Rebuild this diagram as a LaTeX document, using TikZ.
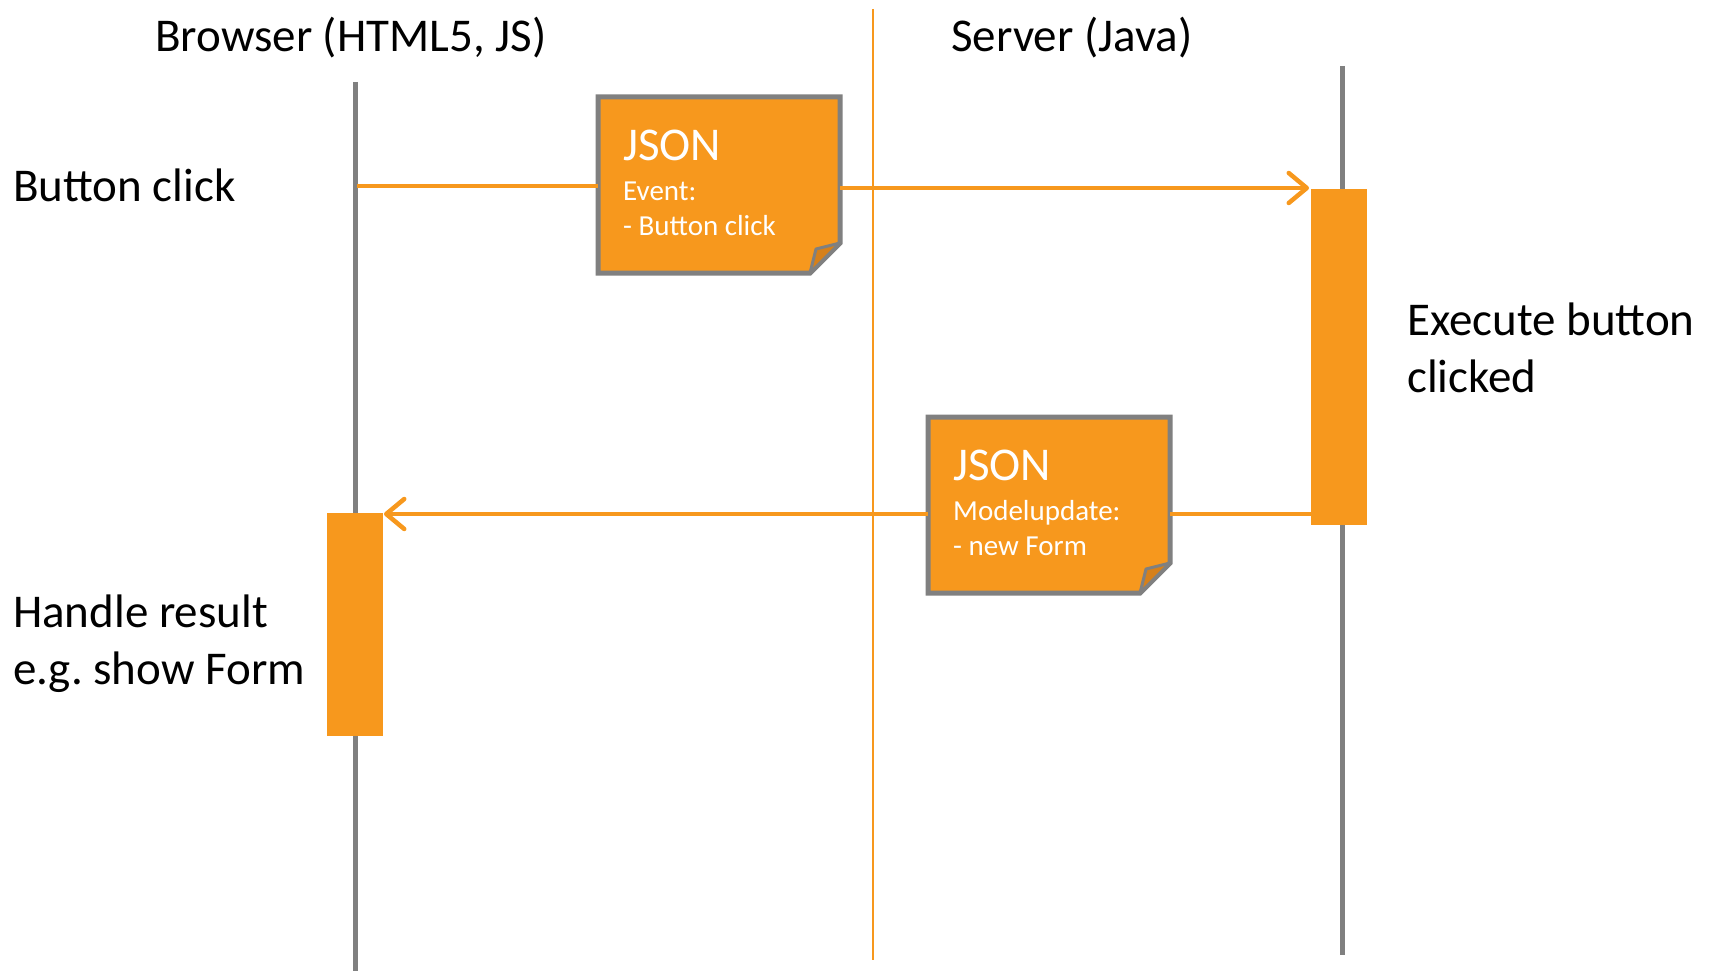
\documentclass[tikz,border=0pt]{standalone}
\usepackage{fontspec}
\setmainfont{Carlito}
\frenchspacing
\usetikzlibrary{arrows.meta,calc}
\definecolor{orng}{RGB}{247,152,29}
\definecolor{gry}{RGB}{128,128,128}
\definecolor{foldc}{RGB}{214,128,26}
\begin{document}
\begin{tikzpicture}[x=1pt,y=-1pt,
  lifeline/.style={draw=gry,line width=5pt},
  divider/.style={draw=orng,line width=2pt},
  msg/.style={draw=orng,line width=4.5pt},
  msgarrow/.style={msg,-{Straight Barb[length=18pt,width=30pt,round]}},
  act/.style={fill=orng,draw=none,inner sep=0pt,outer sep=0pt,anchor=north west},
  notebox/.style={draw=none,inner sep=0pt,outer sep=2.5pt,minimum width=237pt,minimum height=171pt},
  noteshape/.style={fill=orng,draw=gry,line width=5pt,line join=miter},
  foldshape/.style={fill=foldc,draw=gry,line width=3pt,line join=round},
  big/.style={font=\fontsize{47}{57}\selectfont,inner sep=0pt,anchor=base west},
  small/.style={font=\fontsize{29}{35}\selectfont,inner sep=0pt,anchor=base west,text=white},
]
\useasboundingbox (0,0) rectangle (1715,971);
% lifelines
\coordinate (bt) at (355,82);
\coordinate (bb) at (355,971);
\coordinate (st) at (1342.5,66);
\coordinate (sb) at (1342.5,955);
\coordinate (dt) at (873,9);
\coordinate (db) at (873,960);
\draw[lifeline] (bt) -- (bb);
\draw[lifeline] (st) -- (sb);
\draw[divider] (dt) -- (db);
% activation boxes
\node[act,minimum width=56pt,minimum height=336pt] (sact) at (1311,189) {};
\node[act,minimum width=56pt,minimum height=223pt] (bact) at (327,513) {};
% titles
\node[big] (tb) at (155,52) {Browser (HTML5, JS)};
\node[big] (ts) at (951,52) {Server (Java)};
% side labels
\node[big] (lb1) at (13,201) {Button click};
\node[big] (lb2) at (13,627) {\begin{tabular}[t]{@{}l@{}}Handle result\\e.g. show Form\end{tabular}};
\node[big] (ls1) at (1407,335) {\begin{tabular}[t]{@{}l@{}}Execute button\\clicked\end{tabular}};
% notes
\node[notebox] (n1) at (719,185) {};
\node[notebox] (n2) at (1049,505) {};
\foreach \n in {n1,n2}{
  \path[noteshape] (\n.north west) -- (\n.north east) -- ($(\n.south east)+(0,-30)$) -- ($(\n.south east)+(-30,0)$) -- (\n.south west) -- cycle;
  \path[foldshape] ($(\n.south east)+(-30,0)$) -- ($(\n.south east)+(-24,-24)$) -- ($(\n.south east)+(0,-30)$) -- cycle;
}
\node[big,text=white] (j1) at (623,160) {JSON};
\node[small] (e1) at (623,200) {Event:};
\node[small] (e2) at (623,235) {- Button click};
\node[big,text=white] (j2) at (953,480) {JSON};
\node[small] (m1) at (953,520) {Modelupdate:};
\node[small] (m2) at (953,555) {- new Form};
% messages
\coordinate (b1) at (357,186);
\coordinate (s1) at (1309,188);
\coordinate (s2) at (1311,514);
\coordinate (b2) at (384,514);
\draw[msg] (b1) -- (b1 -| n1.west);
\draw[msgarrow] (s1 -| n1.east) -- (s1);
\draw[msg] (s2) -- (s2 -| n2.east);
\draw[msgarrow] (b2 -| n2.west) -- (b2);
\end{tikzpicture}
\end{document}
